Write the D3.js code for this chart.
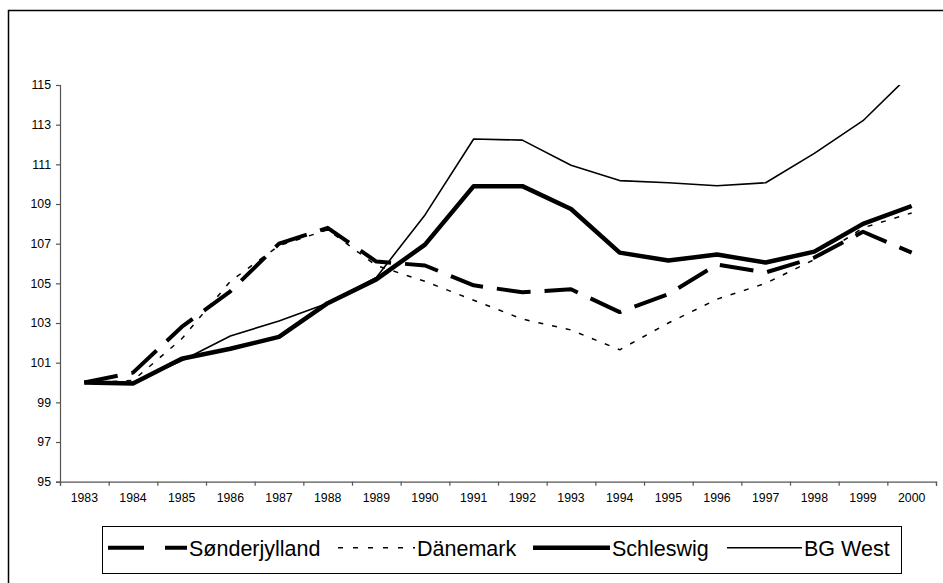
<!DOCTYPE html>
<html>
<head>
<meta charset="utf-8">
<script src="https://cdn.jsdelivr.net/npm/d3@7"></script>
<style>
    body { margin: 0; background: #fff; }
    text { font-family: "Liberation Sans", Arial, sans-serif; fill: #000; }
</style>
</head>
<body>
<div id="chart"></div>
<script>
// Data (index, 1983 = 100)
const years = ["1983", "1984", "1985", "1986", "1987", "1988", "1989", "1990", "1991",
    "1992", "1993", "1994", "1995", "1996", "1997", "1998", "1999", "2000"];
const yTicks = [95, 97, 99, 101, 103, 105, 107, 109, 111, 113, 115];

const soenderjylland = [100, 100.5, 102.8, 104.6, 107.0, 107.8, 106.1, 105.9, 104.9,
    104.55, 104.7, 103.55, 104.45, 105.95, 105.55, 106.3, 107.6, 106.55];
const daenemark = [100, 100.1, 102.2, 105.1, 106.9, 107.7, 105.9, 105.1, 104.15,
    103.2, 102.65, 101.65, 103.0, 104.2, 105.0, 106.2, 107.8, 108.55];
const schleswig = [100, 99.95, 101.2, 101.7, 102.3, 104.0, 105.2, 106.95, 109.9,
    109.9, 108.75, 106.55, 106.15, 106.45, 106.05, 106.6, 108.0, 108.9];
const bgWest = [100, 100.0, 101.1, 102.35, 103.1, 104.0, 105.3, 108.45, 112.28,
    112.22, 110.95, 110.18, 110.07, 109.92, 110.07, 111.55, 113.2, 115.6];

const seriesNames = ["Sønderjylland", "Dänemark", "Schleswig", "BG West"];

const CONFIG = {
    width: 943,
    height: 583,
    plot: { left: 60, right: 936, top: 85, bottom: 481.7 },
    styles: {
        "Sønderjylland": { width: 4, dash: "34,14", legendDash: "36,21" },
        "Dänemark": { width: 1.5, dash: "5,9", legendDash: "5,10" },
        "Schleswig": { width: 4.5, dash: null, legendDash: null },
        "BG West": { width: 1.6, dash: null, legendDash: null }
    },
    legend: { left: 102, right: 901, top: 526, bottom: 573, lineY: 547.7, textY: 556,
        items: [[108, 187], [338, 415], [533, 610], [727, 802]] }
};

const series = [soenderjylland, daenemark, schleswig, bgWest].map((values, i) => ({
    name: seriesNames[i],
    values: values
}));

const svg = d3.select("#chart")
    .append("svg")
    .attr("width", CONFIG.width)
    .attr("height", CONFIG.height);

// Outer chart frame (runs off the right and bottom edges)
svg.append("rect")
    .attr("x", 8.5).attr("y", 10.5)
    .attr("width", 940).attr("height", 590)
    .attr("fill", "none")
    .attr("stroke", "#000")
    .attr("stroke-width", 1.5);

const p = CONFIG.plot;

const x = d3.scaleBand()
    .domain(years)
    .range([p.left, p.right])
    .padding(0);

const xEdges = d3.scaleLinear()
    .domain([0, years.length])
    .range([p.left, p.right]);

const y = d3.scaleLinear()
    .domain([95, 115])
    .range([p.bottom, p.top]);

// Y axis
const yAxis = svg.append("g")
    .attr("transform", `translate(${p.left},0)`)
    .call(d3.axisLeft(y).tickValues(yTicks).tickSize(4).tickPadding(5).tickFormat(d3.format("d")));

// X axis: tick marks on category boundaries, labels on centres
const xTickAxis = svg.append("g")
    .attr("transform", `translate(0,${p.bottom})`)
    .call(d3.axisBottom(xEdges).tickValues(d3.range(years.length + 1)).tickSize(4).tickFormat(""));

const xLabelAxis = svg.append("g")
    .attr("transform", `translate(0,${p.bottom})`)
    .call(d3.axisBottom(x).tickSize(0).tickPadding(12));
xLabelAxis.select(".domain").remove();

[yAxis, xTickAxis].forEach(g => {
    g.select(".domain").attr("stroke", "#555").attr("stroke-width", 1.2);
    g.selectAll(".tick line").attr("stroke", "#555").attr("stroke-width", 1.2);
});
[yAxis, xLabelAxis].forEach(g => {
    g.selectAll(".tick text")
        .style("font-family", "'Liberation Sans', Arial, sans-serif")
        .style("font-size", "12.3px")
        .attr("fill", "#000");
});

// Clip lines to the plot area (BG West leaves the top in 2000)
svg.append("clipPath")
    .attr("id", "plotClip")
    .append("rect")
    .attr("x", p.left).attr("y", p.top)
    .attr("width", p.right - p.left).attr("height", p.bottom - p.top);

const line = d3.line()
    .x((d, i) => x(years[i]) + x.bandwidth() / 2)
    .y(d => y(d));

svg.append("g")
    .attr("clip-path", "url(#plotClip)")
    .selectAll("path.series")
    .data(series)
    .join("path")
    .attr("class", "series")
    .attr("d", d => line(d.values))
    .attr("fill", "none")
    .attr("stroke", "#000")
    .attr("stroke-width", d => CONFIG.styles[d.name].width)
    .attr("stroke-dasharray", d => CONFIG.styles[d.name].dash)
    .attr("stroke-linejoin", "round");

// Legend
const lg = CONFIG.legend;
svg.append("rect")
    .attr("x", lg.left + 0.5).attr("y", lg.top + 0.5)
    .attr("width", lg.right - lg.left).attr("height", lg.bottom - lg.top)
    .attr("fill", "#fff")
    .attr("stroke", "#000")
    .attr("stroke-width", 1);

const legendItem = svg.append("g")
    .selectAll("g")
    .data(series)
    .join("g");

legendItem.append("line")
    .attr("x1", (d, i) => lg.items[i][0])
    .attr("x2", (d, i) => lg.items[i][1])
    .attr("y1", lg.lineY).attr("y2", lg.lineY)
    .attr("stroke", "#000")
    .attr("stroke-width", d => CONFIG.styles[d.name].width)
    .attr("stroke-dasharray", d => CONFIG.styles[d.name].legendDash);

legendItem.append("text")
    .attr("x", (d, i) => lg.items[i][1] + 2)
    .attr("y", lg.textY)
    .style("font-size", "21.5px")
    .text(d => d.name);
</script>
</body>
</html>
